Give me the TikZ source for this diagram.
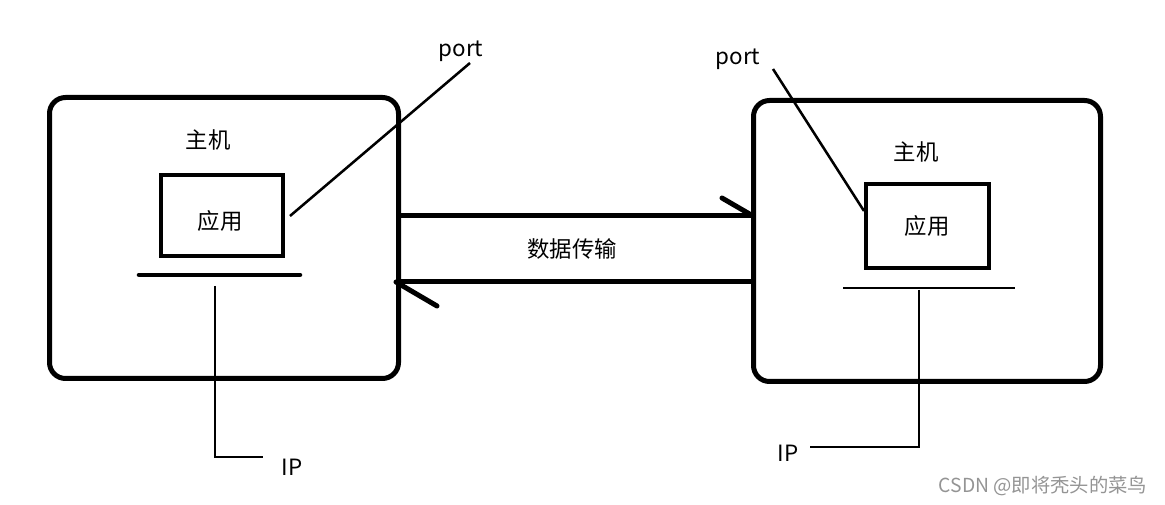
\documentclass[tikz,border=0pt]{standalone}
\usepackage{fontspec}
\setmainfont{Noto Sans CJK SC}
\newfontfamily\cjk{Noto Sans CJK SC}
\begin{document}
\begin{tikzpicture}[x=0.75pt,y=-0.75pt,
  host/.style={draw, line width=3.75pt, rounded corners=12pt, inner sep=0pt},
  app/.style={draw, line width=3pt, inner sep=0pt},
  lbl/.style={inner sep=0pt, font=\cjk\fontsize{16.8pt}{19pt}\selectfont},
  thick line/.style={line width=3.75pt},
  thin line/.style={line width=1.9pt},
  wm/.style={inner sep=0pt, text=black!42, font=\cjk\fontsize{14.5pt}{16pt}\selectfont}]
\useasboundingbox (0,0) rectangle (1165,505);
% hosts
\node[host, minimum width=261.75pt, minimum height=210.75pt] (lhost) at (224,238) {};
\node[host, minimum width=260.25pt, minimum height=210.75pt] (rhost) at (927,241) {};
\node[lbl] (lhosttxt) at (208,140) {主机};
\node[lbl] (rhosttxt) at (916,152) {主机};
% apps
\node[app, minimum width=91.5pt, minimum height=60.75pt] (lapp) at (222,215.5) {};
\node[app, minimum width=92.25pt, minimum height=63pt] (rapp) at (927.5,226) {};
\node[lbl] (lapptxt) at (220,221) {应用};
\node[lbl] (rapptxt) at (927,226) {应用};
% port labels
\node[lbl] (lport) at (461,51) {port};
\node[lbl] (rport) at (738,59) {port};
\coordinate (lportend) at (470,63);
\coordinate (rportend) at (773,69);
\draw[thin line] (lapp.east |- 0,216) ++(5,0) coordinate (lpa) -- (lportend);
\draw[thin line] (rportend) -- (864,211);
% underlines
\coordinate (lu1) at (139,275); \coordinate (lu2) at (300,275);
\draw[line width=3.4pt, line cap=round] (lu1) -- (lu2);
\coordinate (ru1) at (843,288); \coordinate (ru2) at (1015,288);
\draw[line width=1.6pt] (ru1) -- (ru2);
% IP lines
\coordinate (lv1) at (215,286); \coordinate (lv2) at (215,457); \coordinate (lv3) at (263,457);
\draw[thin line] (lv1) -- (lv2) -- (lv3);
\node[lbl] (lip) at (292,467) {IP};
\coordinate (rv1) at (919,290); \coordinate (rv2) at (919,447); \coordinate (rv3) at (810,447);
\draw[thin line] (rv1) -- (rv2) -- (rv3);
\node[lbl] (rip) at (788,453) {IP};
% data transfer arrows
\coordinate (t1) at (401,216); \coordinate (t2) at (753,216);
\draw[thick line] (t1) -- (t2);
\coordinate (th) at (722,198);
\draw[thick line, line cap=round] (th) -- (t2);
\coordinate (b1) at (396,282); \coordinate (b2) at (751,282);
\draw[thick line] (b2) -- (b1);
\coordinate (bh) at (437,306);
\draw[thick line, line cap=round] (b1) -- (bh);
\node[lbl] (data) at (572,249) {数据传输};
% watermark
\node[wm] (wmark) at (1043,486) {CSDN @即将秃头的菜鸟};
\end{tikzpicture}
\end{document}
